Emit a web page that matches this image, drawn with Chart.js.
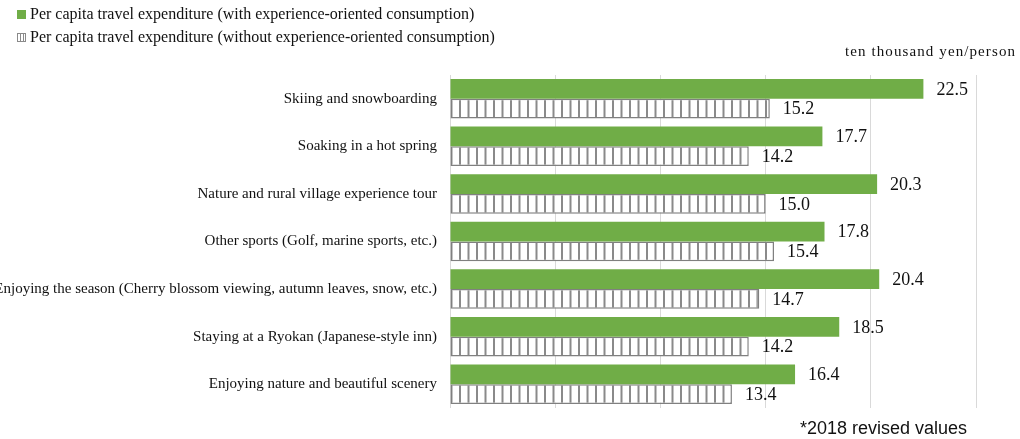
<!DOCTYPE html>
<html>
<head>
<meta charset="utf-8">
<script src="https://cdn.jsdelivr.net/npm/chart.js@4.4.1/dist/chart.umd.min.js"></script>
<style>
  html, body { margin: 0; padding: 0; background: #fff; }
  #wrap { position: relative; width: 1020px; height: 439px; overflow: hidden; }
  #chart { position: absolute; left: 0; top: 0; }
  .legend { position: absolute; left: 17px; font: 16px "Liberation Serif", serif; color: #111; white-space: nowrap; line-height: 18px; }
  .legend .sw { display: inline-block; width: 9px; height: 9px; margin-right: 4px; vertical-align: 0px; box-sizing: border-box; }
  .unit { position: absolute; left: 845px; top: 43px; font: 15px "Liberation Serif", serif; letter-spacing: 1.1px; color: #111; white-space: nowrap; }
  .note { position: absolute; left: 800px; top: 418px; font: 18px "Liberation Sans", Arial, sans-serif; color: #111; white-space: nowrap; }
</style>
</head>
<body>
<div id="wrap">
  <canvas id="chart" width="1020" height="439"></canvas>
  <div class="legend" id="leg1" style="top:5px"></div>
  <div class="legend" id="leg2" style="top:28px"></div>
  <div class="unit">ten thousand yen/person</div>
  <div class="note">*2018 revised values</div>
</div>
<script>
const categories = [
  'Skiing and snowboarding',
  'Soaking in a hot spring',
  'Nature and rural village experience tour',
  'Other sports (Golf, marine sports, etc.)',
  'Enjoying the season (Cherry blossom viewing, autumn leaves, snow, etc.)',
  'Staying at a Ryokan (Japanese-style inn)',
  'Enjoying nature and beautiful scenery'
];
const withExperience = [22.5, 17.7, 20.3, 17.8, 20.4, 18.5, 16.4];
const withoutExperience = [15.2, 14.2, 15.0, 15.4, 14.7, 14.2, 13.4];
const seriesLabels = [
  'Per capita travel expenditure (with experience-oriented consumption)',
  'Per capita travel expenditure (without experience-oriented consumption)'
];

const GREEN = '#70ad47';
const HATCH_LINE = '#8a8a8a';

function makeHatch() {
  const c = document.createElement('canvas');
  c.width = 17;
  c.height = 10;
  const g = c.getContext('2d');
  g.fillStyle = '#ffffff';
  g.fillRect(0, 0, 17, 10);
  g.fillStyle = HATCH_LINE;
  g.fillRect(0, 0, 2, 10);
  g.fillRect(8.5, 0, 2, 10);
  return g.createPattern(c, 'repeat');
}

// legend in html
document.getElementById('leg1').innerHTML =
  '<span class="sw" style="background:' + GREEN + '"></span>' + seriesLabels[0];
document.getElementById('leg2').innerHTML =
  '<span class="sw" style="border:1px solid #8a8a8a;background:repeating-linear-gradient(90deg,#fff 0 2px,#8a8a8a 2px 3px)"></span>' + seriesLabels[1];

const valueLabels = {
  id: 'valueLabels',
  afterDatasetsDraw(chart) {
    const ctx = chart.ctx;
    ctx.save();
    ctx.font = '18px "Liberation Serif", serif';
    ctx.fillStyle = '#111';
    ctx.textAlign = 'left';
    ctx.textBaseline = 'middle';
    chart.data.datasets.forEach((ds, i) => {
      const meta = chart.getDatasetMeta(i);
      meta.data.forEach((bar, j) => {
        ctx.fillText(ds.data[j].toFixed(1), bar.x + 13, bar.y + 1);
      });
    });
    ctx.restore();
  }
};

new Chart(document.getElementById('chart'), {
  type: 'bar',
  data: {
    labels: categories,
    datasets: [
      {
        label: seriesLabels[0],
        data: withExperience,
        backgroundColor: GREEN,
        borderWidth: 0
      },
      {
        label: seriesLabels[1],
        data: withoutExperience,
        backgroundColor: makeHatch(),
        borderColor: '#808080',
        borderWidth: 1.5,
        borderSkipped: false
      }
    ]
  },
  options: {
    indexAxis: 'y',
    responsive: false,
    animation: false,
    datasets: {
      bar: { categoryPercentage: 0.83, barPercentage: 1.0 }
    },
    layout: {
      padding: { top: 75, bottom: 31, right: 44, left: 0 }
    },
    plugins: {
      legend: { display: false },
      tooltip: { enabled: false }
    },
    scales: {
      x: {
        min: 0,
        max: 25,
        ticks: { display: false, stepSize: 5 },
        grid: { color: '#d9d9d9', lineWidth: 1, drawTicks: false },
        border: { display: false },
        afterFit(scale) { scale.height = 0; }
      },
      y: {
        grid: { display: false, drawTicks: false },
        border: { display: false },
        ticks: {
          color: '#111',
          padding: 13,
          autoSkip: false,
          font: { size: 15, family: '"Liberation Serif", serif' }
        },
        afterFit(scale) { scale.width = 450; }
      }
    }
  },
  plugins: [valueLabels]
});
</script>
</body>
</html>
